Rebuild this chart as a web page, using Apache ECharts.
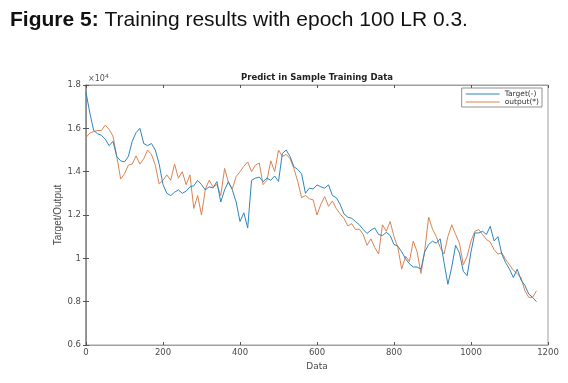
<!DOCTYPE html>
<html>
<head>
<meta charset="utf-8">
<script src="https://cdn.jsdelivr.net/npm/echarts@6/dist/echarts.min.js"></script>
<style>
html,body{margin:0;padding:0;background:#fff;}
#chart{width:568px;height:383px;}
</style>
</head>
<body>
<div id="chart"></div>
<script>
// Step between samples on the "Data" axis
var STEP = 10;
// Target(-) values (x10^4), one every STEP samples starting at 0
var targetValues = [
1.766,1.67,1.59,1.575,1.568,1.55,1.52,1.54,1.47,1.45,
1.445,1.47,1.54,1.58,1.60,1.53,1.52,1.53,1.50,1.435,
1.34,1.30,1.29,1.305,1.316,1.30,1.31,1.33,1.335,1.36,
1.34,1.316,1.33,1.325,1.354,1.26,1.316,1.354,1.316,1.26,
1.17,1.21,1.14,1.36,1.37,1.375,1.354,1.37,1.36,1.38,
1.355,1.484,1.50,1.47,1.423,1.41,1.39,1.30,1.324,1.32,
1.339,1.33,1.324,1.339,1.29,1.28,1.25,1.205,1.19,1.185,
1.17,1.155,1.133,1.115,1.13,1.14,1.11,1.105,1.12,1.105,
1.064,1.056,1.03,0.998,0.975,0.96,0.96,0.95,1.03,1.064,
1.079,1.07,1.09,0.98,0.88,0.96,1.06,1.025,0.94,0.92,
1.03,1.117,1.117,1.125,1.11,1.148,1.08,1.10,1.02,0.98,
0.95,0.911,0.95,0.90,0.875,0.835,0.82,0.80
];
// output(*) values (x10^4)
var outputValues = [
1.558,1.578,1.585,1.59,1.59,1.615,1.595,1.565,1.47,1.366,
1.39,1.43,1.435,1.473,1.435,1.46,1.50,1.48,1.43,1.343,
1.36,1.385,1.36,1.435,1.37,1.40,1.34,1.385,1.23,1.29,
1.20,1.32,1.36,1.33,1.34,1.29,1.415,1.35,1.32,1.377,
1.40,1.425,1.445,1.40,1.43,1.44,1.34,1.36,1.45,1.40,
1.50,1.47,1.48,1.46,1.415,1.354,1.28,1.29,1.275,1.27,
1.20,1.25,1.285,1.24,1.265,1.23,1.205,1.185,1.15,1.16,
1.133,1.135,1.11,1.06,1.09,1.05,1.02,1.155,1.125,1.17,
1.10,1.05,0.95,1.01,0.985,1.08,1.03,0.93,1.04,1.19,
1.135,1.10,1.05,1.02,1.10,1.155,1.11,1.07,0.97,1.01,
1.08,1.125,1.133,1.11,1.087,1.075,1.04,1.02,1.025,0.995,
0.97,0.945,0.93,0.911,0.85,0.82,0.82,0.85
];
var xTicks = [0,200,400,600,800,1000,1200];
var yTicks = [0.6,0.8,1,1.2,1.4,1.6,1.8];
var seriesNames = ['Target(-)','output(*)'];

function toPairs(vals){ return vals.map(function(v,i){ return [i*STEP, v]; }); }

var axisGray = '#a0a0a0';
var labelColor = '#4a4a4a';
var font = "'Liberation Sans', Arial, sans-serif";
var wide = "'DejaVu Sans', Verdana, sans-serif";

var chart = echarts.init(document.getElementById('chart'), null, {renderer:'canvas'});
chart.setOption({
  animation:false,
  backgroundColor:'#fff',
  grid:{left:86, right:20, top:85, bottom:38, show:true, borderColor:axisGray, borderWidth:1, backgroundColor:'#fff'},
  xAxis:[{
    type:'value', min:xTicks[0], max:xTicks[xTicks.length-1], interval:200,
    name:'Data', nameLocation:'middle', nameGap:15,
    nameTextStyle:{fontFamily:wide, fontSize:9, color:labelColor},
    axisLine:{show:true, lineStyle:{color:axisGray}},
    axisTick:{show:true, inside:true, length:3, lineStyle:{color:'#555'}},
    axisLabel:{fontFamily:wide, fontSize:8.5, color:labelColor, margin:3,
      formatter:function(v){ return String(v); }},
    splitLine:{show:false}
  },{
    type:'value', position:'top', min:xTicks[0], max:xTicks[xTicks.length-1], interval:200,
    axisLine:{show:true, lineStyle:{color:axisGray}},
    axisTick:{show:true, inside:true, length:3, lineStyle:{color:'#555'}},
    axisLabel:{show:false}, splitLine:{show:false}
  }],
  yAxis:[{
    type:'value', min:yTicks[0], max:yTicks[yTicks.length-1], interval:0.2,
    name:'Target/Output', nameLocation:'middle', nameGap:23, nameRotate:90, nameMoveOverlap:false,
    nameTextStyle:{fontFamily:font, fontSize:10, color:labelColor},
    axisLine:{show:true, lineStyle:{color:axisGray}},
    axisTick:{show:true, inside:true, length:3, lineStyle:{color:'#555'}},
    axisLabel:{fontFamily:wide, fontSize:8.5, color:labelColor, margin:5,
      formatter:function(v){ return String(+v.toFixed(1)); }},
    splitLine:{show:false}
  },{
    type:'value', position:'right', min:yTicks[0], max:yTicks[yTicks.length-1], interval:0.2,
    axisLine:{show:true, lineStyle:{color:'#8a8a8a', width:1.5}},
    axisTick:{show:true, inside:true, length:3, lineStyle:{color:'#555'}},
    axisLabel:{show:false}, splitLine:{show:false}
  }],
  legend:{
    right:26, top:88, orient:'vertical', icon:'rect', itemWidth:34, itemHeight:1, itemGap:0,
    padding:[2,3,1,4], borderColor:'#777', borderWidth:0.8, backgroundColor:'#fff',
    textStyle:{fontFamily:wide, fontSize:7.5, lineHeight:7, color:'#333', padding:[0,0,0,0]},
    align:'left',
    data:seriesNames
  },
  graphic:[
    {type:'text', left:10, top:10, style:{
      text:'{b|Figure 5:} Training results with epoch 100 LR 0.3.',
      font:'21px '+font, fill:'#111',
      rich:{b:{font:'bold 21px '+font, fill:'#111'}}
    }},
    {type:'text', x:317, y:78, style:{
      text:'Predict in Sample Training Data', font:'bold 8.5px '+wide, fill:'#222',
      align:'center', verticalAlign:'middle'
    }},
    {type:'text', x:88, y:79, style:{
      text:'\u00d710{s|4}', font:'8px '+wide, fill:'#555', verticalAlign:'middle',
      rich:{s:{font:'6px '+wide, fill:'#555', verticalAlign:'top', padding:[0,0,6,0]}}
    }}
  ],
  series:[
    {name:seriesNames[0], type:'line', data:toPairs(targetValues), showSymbol:false,
     lineStyle:{color:'#2f85bb', width:1}, itemStyle:{color:'#2f85bb'}, z:3},
    {name:seriesNames[1], type:'line', data:toPairs(outputValues), showSymbol:false,
     lineStyle:{color:'#da8453', width:1}, itemStyle:{color:'#da8453'}, z:2}
  ]
});
</script>
</body>
</html>
